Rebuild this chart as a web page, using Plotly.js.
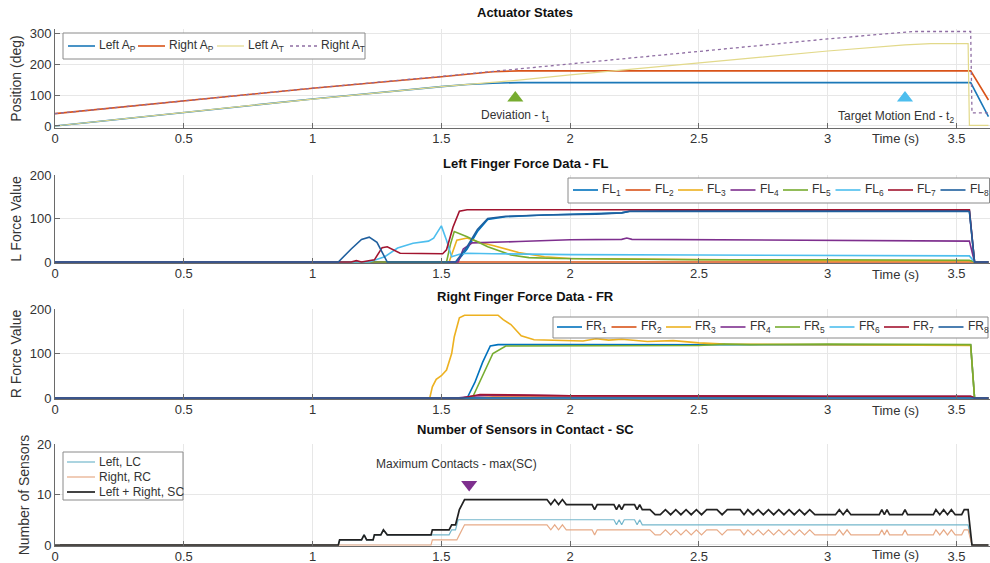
<!DOCTYPE html>
<html><head><meta charset="utf-8">
<script src="https://cdn.plot.ly/plotly-3.0.1.min.js"></script>
<style>html,body{margin:0;padding:0;background:#fff;}#chart{width:990px;height:563px;}</style>
</head><body><div id="chart"></div>
<script>
// ---------------- DATA ----------------
const xTickVals = [0, 0.5, 1, 1.5, 2, 2.5, 3, 3.5];
const xTickText = ['0', '0.5', '1', '1.5', '2', '2.5', '3', '3.5'];
const yTicksPos = [0, 100, 200, 300];
const yTicksForce = [0, 100, 200];
const yTicksSensors = [0, 10, 20];

// Panel 1 - Actuator States
const apNames = ['Left A<sub>P</sub>', 'Right A<sub>P</sub>', 'Left A<sub>T</sub>', 'Right A<sub>T</sub>'];
const tLeftAP  = [0, 0.5, 1.0, 1.5, 1.6, 1.7, 1.8, 3.555, 3.624];
const vLeftAP  = [0, 44, 87, 127, 134, 138, 140, 140, 30];
const tRightAP = [0, 0.5, 1.0, 1.5, 1.6, 1.7, 1.8, 3.555, 3.624];
const vRightAP = [40, 82, 122, 159, 168, 175, 178, 178, 84];
const tLeftAT  = [0, 0.5, 1.0, 1.5, 1.6, 1.8, 2.0, 2.5, 3.0, 3.3, 3.4, 3.545, 3.55, 3.624];
const vLeftAT  = [0, 44, 87, 127, 134, 148, 165, 203, 242, 262, 266, 266, 2, 2];
const tRightAT = [0, 0.5, 1.0, 1.5, 2.0, 2.5, 3.0, 3.33, 3.555, 3.56, 3.624];
const vRightAT = [40, 82, 122, 160, 200, 241, 281, 305, 305, 42, 42];
const eventNames = ['Deviation - t<sub>1</sub>', 'Target Motion End - t<sub>2</sub>'];
const eventT = [1.787, 3.30];
const eventV = [90, 90];

// Panel 2 - Left finger force
const flNames = ['FL<sub>1</sub>','FL<sub>2</sub>','FL<sub>3</sub>','FL<sub>4</sub>','FL<sub>5</sub>','FL<sub>6</sub>','FL<sub>7</sub>','FL<sub>8</sub>'];
const tFL1 = [0, 1.56, 1.6, 1.64, 1.68, 1.75, 1.9, 2.1, 2.2, 2.23, 2.5, 3.0, 3.3, 3.55, 3.57, 3.624];
const vFL1 = [0, 0, 30, 70, 98, 104, 108, 111, 113, 117, 118, 118, 118, 118, 0, 0];
const tFL2 = [0, 1.6, 1.65, 3.55, 3.57, 3.624];
const vFL2 = [0, 0, 1, 1, 0, 0];
const tFL3 = [0, 1.53, 1.56, 1.6, 1.65, 1.7, 1.8, 1.9, 2.0, 2.5, 3.0, 3.55, 3.57, 3.624];
const vFL3 = [0, 0, 50, 55, 45, 38, 22, 12, 8, 5, 3, 3, 0, 0];
const tFL4 = [0, 1.565, 1.585, 1.62, 1.8, 2.0, 2.2, 2.22, 2.24, 2.5, 3.0, 3.3, 3.55, 3.57, 3.624];
const vFL4 = [0, 0, 30, 44, 47, 51, 52, 55, 52, 51, 50, 49, 48, 0, 0];
const tFL5 = [0, 1.52, 1.535, 1.55, 1.6, 1.68, 1.77, 1.84, 1.95, 2.2, 2.5, 3.0, 3.55, 3.57, 3.624];
const vFL5 = [0, 0, 40, 70, 58, 35, 16, 10, 8, 6, 5, 5, 4, 0, 0];
const tFL6 = [0, 1.22, 1.28, 1.33, 1.39, 1.45, 1.47, 1.50, 1.52, 1.54, 1.57, 1.6, 1.7, 2.0, 2.5, 3.0, 3.55, 3.57, 3.624];
const vFL6 = [0, 0, 12, 32, 43, 48, 55, 83, 50, 12, 18, 20, 19, 17, 16, 15, 14, 0, 0];
const tFL7 = [0, 1.15, 1.17, 1.19, 1.24, 1.27, 1.29, 1.34, 1.505, 1.52, 1.545, 1.57, 1.6, 3.55, 3.57, 3.624];
const vFL7 = [0, 0, 3, 0, 5, 33, 35, 20, 19, 28, 80, 117, 120, 120, 0, 0];
const tFL8 = [0, 1.10, 1.15, 1.19, 1.22, 1.25, 1.29, 1.555, 1.6, 1.64, 1.68, 1.75, 1.9, 2.1, 2.2, 2.23, 3.0, 3.55, 3.57, 3.624];
const vFL8 = [0, 0, 30, 52, 57, 45, 0, 0, 35, 75, 100, 105, 108, 110, 113, 116, 116, 116, 0, 0];

// Panel 3 - Right finger force
const frNames = ['FR<sub>1</sub>','FR<sub>2</sub>','FR<sub>3</sub>','FR<sub>4</sub>','FR<sub>5</sub>','FR<sub>6</sub>','FR<sub>7</sub>','FR<sub>8</sub>'];
const tFR1 = [0, 1.6, 1.63, 1.66, 1.69, 1.72, 2.0, 2.5, 3.0, 3.5, 3.555, 3.57, 3.624];
const vFR1 = [0, 0, 35, 80, 117, 120, 120, 120, 119, 119, 119, 0, 0];
const tFR2 = [0, 1.6, 1.7, 3.555, 3.57, 3.624];
const vFR2 = [0, 0, 2, 2, 0, 0];
const tFR3 = [0, 1.455, 1.465, 1.48, 1.5, 1.52, 1.54, 1.55, 1.57, 1.59, 1.72, 1.74, 1.77, 1.81, 1.86, 1.95, 2.05, 2.1, 2.15, 2.2, 2.3, 2.4, 2.5, 2.6, 3.0, 3.5, 3.555, 3.57, 3.624];
const vFR3 = [0, 0, 25, 42, 50, 63, 100, 137, 180, 186, 186, 176, 165, 140, 131, 130, 128, 133, 130, 132, 127, 129, 124, 121, 120, 119, 118, 0, 0];
const tFR4 = [0, 1.56, 1.62, 1.7, 2.0, 2.5, 3.0, 3.555, 3.57, 3.624];
const vFR4 = [0, 0, 4, 7, 5, 4, 4, 4, 0, 0];
const tFR5 = [0, 1.62, 1.66, 1.7, 1.75, 2.5, 2.6, 2.7, 3.0, 3.5, 3.555, 3.57, 3.624];
const vFR5 = [0, 0, 50, 100, 117, 118, 121, 120, 121, 121, 120, 0, 0];
const tFR6 = [0, 3.624];
const vFR6 = [0, 0];
const tFR7 = [0, 1.58, 1.65, 1.8, 2.0, 3.0, 3.555, 3.57, 3.624];
const vFR7 = [0, 0, 8, 7, 5, 4, 4, 0, 0];
const tFR8 = [0, 1.6, 1.7, 3.555, 3.57, 3.624];
const vFR8 = [0, 0, 1, 1, 0, 0];

// Panel 4 - Number of sensors in contact
const scNames = ['Left, LC', 'Right, RC', 'Left + Right, SC'];
const tLC = [0, 1.10, 1.105, 1.19, 1.20, 1.21, 1.235, 1.24, 1.265, 1.275, 1.29, 1.53, 1.54, 1.555, 1.565, 2.17, 2.18, 2.19, 2.20, 2.21, 2.22, 2.25, 2.26, 2.27, 2.28, 3.545, 3.56, 3.624];
const vLC = [0, 0, 1, 1, 2, 1, 1, 2, 2, 3, 2, 2, 3, 3, 5, 5, 4, 5, 4, 5, 5, 5, 4, 5, 4, 4, 0, 0];
const tRC = [0, 1.46, 1.465, 1.56, 1.57, 1.58, 1.59, 1.91, 1.925, 1.94, 1.955, 1.97, 1.985, 2.085, 2.095, 2.105, 2.31, 2.33,
  2.35, 2.37, 2.39, 2.41, 2.43, 2.45, 2.47, 2.49, 2.51, 2.53, 2.57, 2.59, 2.61, 2.66, 2.675, 2.69, 2.71, 2.73, 2.75, 2.77, 2.79, 2.81, 2.83, 2.85, 2.87, 2.89, 2.91, 2.93, 2.95,
  3.03, 3.045, 3.06, 3.075, 3.09, 3.20, 3.21, 3.22, 3.23, 3.24, 3.29, 3.30, 3.31, 3.41, 3.42, 3.435, 3.45, 3.465, 3.48, 3.495, 3.52, 3.53, 3.545, 3.56, 3.624];
const vRC = [0, 0, 1, 1, 2, 3, 4, 4, 3, 4, 3, 4, 3, 3, 2, 3, 3, 2,
  2, 3, 2, 3, 2, 3, 2, 3, 2, 3, 3, 2, 3, 3, 2, 3, 2, 3, 2, 3, 2, 3, 2, 3, 2, 3, 2, 3, 2,
  2, 3, 2, 3, 2, 2, 3, 2, 3, 2, 2, 3, 2, 2, 3, 2, 3, 2, 3, 2, 2, 3, 3, 0, 0];
const tSC = [0, 1.10, 1.105, 1.19, 1.20, 1.21, 1.235, 1.24, 1.265, 1.275, 1.29, 1.46, 1.465, 1.53, 1.54, 1.555, 1.565, 1.57, 1.58, 1.59,
  1.91, 1.925, 1.94, 1.955, 1.97, 1.985, 2.085, 2.095, 2.105, 2.17, 2.18, 2.19, 2.20, 2.21, 2.25, 2.26, 2.27, 2.28, 2.31, 2.33,
  2.35, 2.37, 2.39, 2.41, 2.43, 2.45, 2.47, 2.49, 2.51, 2.53, 2.57, 2.59, 2.61, 2.66, 2.675, 2.69, 2.71, 2.73, 2.75, 2.77, 2.79, 2.81, 2.83, 2.85, 2.87, 2.89, 2.91, 2.93, 2.95,
  3.03, 3.045, 3.06, 3.075, 3.09, 3.20, 3.21, 3.22, 3.23, 3.24, 3.29, 3.30, 3.31, 3.41, 3.42, 3.435, 3.45, 3.465, 3.48, 3.495, 3.52, 3.53, 3.545, 3.56, 3.624];
const vSC = [0, 0, 1, 1, 2, 1, 1, 2, 2, 3, 2, 2, 3, 3, 4, 4, 6, 7, 8, 9,
  9, 8, 9, 8, 9, 8, 8, 7, 8, 8, 7, 8, 7, 8, 8, 7, 8, 7, 7, 6,
  6, 7, 6, 7, 6, 7, 6, 7, 6, 7, 7, 6, 7, 7, 6, 7, 6, 7, 6, 7, 6, 7, 6, 7, 6, 7, 6, 7, 6,
  6, 7, 6, 7, 6, 6, 7, 6, 7, 6, 6, 7, 6, 6, 7, 6, 7, 6, 7, 6, 6, 7, 7, 0, 0];
const maxLabel = 'Maximum Contacts - max(SC)';
const maxT = [1.608];
const maxV = [12];

// ---------------- STYLE / LAYOUT ----------------
const W = 990, H = 563;
const px = x => x / W;
const py = y => 1 - y / H;
const C = {blue:'#0072BD', orange:'#D95319', yellow:'#EDB120', purple:'#7E2F8E', green:'#77AC30', cyan:'#4DBEEE', red:'#A2142F'};
const forceColors = [C.blue, C.orange, C.yellow, C.purple, C.green, C.cyan, C.red, '#1f5f9e'];
const FONT = 'Liberation Sans, Arial, Helvetica, sans-serif';
const TXT = '#333333';

function ax(n) { return n === 1 ? '' : String(n); }
function line(t, v, n, color, width, dash) {
  return {type:'scatter', mode:'lines', x:t, y:v, xaxis:'x'+ax(n), yaxis:'y'+ax(n),
    line:{color:color, width:width, dash:dash||'solid'}, showlegend:false, hoverinfo:'skip'};
}

const traces = [];
// panel 1
const apStyles = [
  {t:tLeftAP, v:vLeftAP, c:'#1b78b8', w:1.6, d:'solid'},
  {t:tRightAP, v:vRightAP, c:C.orange, w:1.6, d:'solid'},
  {t:tLeftAT, v:vLeftAT, c:'#e2d98a', w:1.2, d:'solid'},
  {t:tRightAT, v:vRightAT, c:'#8f6ea3', w:1.3, d:'dot'}
];
apStyles.forEach(s => traces.push(line(s.t, s.v, 1, s.c, s.w, s.d)));
traces.push({type:'scatter', mode:'markers', x:[eventT[0]], y:[eventV[0]], xaxis:'x', yaxis:'y',
  marker:{symbol:'triangle-up', size:14, color:C.green}, showlegend:false, hoverinfo:'skip'});
traces.push({type:'scatter', mode:'markers', x:[eventT[1]], y:[eventV[1]], xaxis:'x', yaxis:'y',
  marker:{symbol:'triangle-up', size:14, color:C.cyan}, showlegend:false, hoverinfo:'skip'});
// panel 2
const flT = [tFL1,tFL2,tFL3,tFL4,tFL5,tFL6,tFL7,tFL8];
const flV = [vFL1,vFL2,vFL3,vFL4,vFL5,vFL6,vFL7,vFL8];
flT.forEach((t,i) => traces.push(line(t, flV[i], 2, forceColors[i], 1.6)));
// panel 3
const frT = [tFR1,tFR2,tFR3,tFR4,tFR5,tFR6,tFR7,tFR8];
const frV = [vFR1,vFR2,vFR3,vFR4,vFR5,vFR6,vFR7,vFR8];
frT.forEach((t,i) => traces.push(line(t, frV[i], 3, forceColors[i], 1.6)));
// panel 4
const scStyles = [
  {t:tLC, v:vLC, c:'#74b7cc', w:1.2},
  {t:tRC, v:vRC, c:'#e7ab88', w:1.2},
  {t:tSC, v:vSC, c:'#222222', w:1.7}
];
scStyles.forEach(s => traces.push(line(s.t, s.v, 4, s.c, s.w)));
traces.push({type:'scatter', mode:'markers', x:maxT, y:maxV, xaxis:'x4', yaxis:'y4',
  marker:{symbol:'triangle-down', size:14, color:C.purple}, showlegend:false, hoverinfo:'skip'});

const panels = [
  {top:29,  bottom:128, range:[-6.5, 313], ticks:yTicksPos,     ytitle:'Position (deg)',    title:'Actuator States', titleY:13, timeDy:11},
  {top:175, bottom:263, range:[-2.3, 200], ticks:yTicksForce,   ytitle:'L Force Value',     title:'Left Finger Force Data - FL', titleY:163, timeDy:11},
  {top:309, bottom:399, range:[-2.2, 200], ticks:yTicksForce,   ytitle:'R Force Value',     title:'Right Finger Force Data - FR', titleY:296, timeDy:11},
  {top:444, bottom:546, range:[-0.2, 20],  ticks:yTicksSensors, ytitle:'Number of Sensors', title:'Number of Sensors in Contact - SC', titleY:430, timeDy:8.5}
];

const layout = {
  width:W, height:H, margin:{l:0, r:0, t:0, b:0},
  paper_bgcolor:'#ffffff', plot_bgcolor:'#ffffff',
  font:{family:FONT, size:13, color:TXT},
  showlegend:false, annotations:[], shapes:[]
};
const axisCommon = {ticks:'inside', ticklen:5, tickwidth:1, tickcolor:'#6a6a6a', showline:true, linecolor:'#6a6a6a',
  linewidth:1, showgrid:true, gridcolor:'#e7e7e7', gridwidth:1, zeroline:false, fixedrange:true,
  tickfont:{family:FONT, size:13, color:TXT}, automargin:false};

panels.forEach((p, i) => {
  const n = i + 1, s = ax(n);
  layout['xaxis'+s] = Object.assign({}, axisCommon, {domain:[px(55), 1], range:[0, 3.63], anchor:'y'+s,
    tickmode:'array', tickvals:xTickVals, ticktext:xTickText, ticklabelstandoff:-2});
  layout['yaxis'+s] = Object.assign({}, axisCommon, {domain:[py(p.bottom), py(p.top)], range:p.range, anchor:'x'+s,
    tickmode:'array', tickvals:p.ticks, ticktext:p.ticks.map(String),
    title:{text:p.ytitle, font:{family:FONT, size:14, color:TXT}, standoff:4}});
  layout.annotations.push({xref:'paper', yref:'paper', x:px(525), y:py(p.titleY), text:'<b>'+p.title+'</b>',
    showarrow:false, xanchor:'center', yanchor:'middle', font:{family:FONT, size:13, color:'#111'}});
  layout.annotations.push({xref:'x'+s, yref:'paper', x:3.265, y:py(p.bottom + p.timeDy), text:'Time (s)',
    showarrow:false, xanchor:'center', yanchor:'middle', font:{family:FONT, size:13, color:TXT}});
});

// event labels
layout.annotations.push({xref:'x', yref:'y', x:eventT[0], y:32, text:eventNames[0], showarrow:false,
  xanchor:'center', yanchor:'middle', font:{family:FONT, size:12, color:TXT}});
layout.annotations.push({xref:'x', yref:'y', x:3.265, y:30, text:eventNames[1], showarrow:false,
  xanchor:'center', yanchor:'middle', font:{family:FONT, size:12, color:TXT}});
layout.annotations.push({xref:'x4', yref:'y4', x:maxT[0] - 0.05, y:16, text:maxLabel, showarrow:false,
  xanchor:'center', yanchor:'middle', font:{family:FONT, size:12, color:TXT}});

// legends (MATLAB-style boxes)
function addLegend(names, styles, box, positions, sampleLen, textOff) {
  layout.shapes.push({type:'rect', xref:'paper', yref:'paper', x0:px(box[0]), y0:py(box[1]), x1:px(box[2]), y1:py(box[3]),
    line:{color:'#8a8a8a', width:1}, fillcolor:'#ffffff', layer:'above'});
  names.forEach((nm, i) => {
    const [x, y] = positions[i];
    layout.shapes.push({type:'line', xref:'paper', yref:'paper', x0:px(x), x1:px(x + sampleLen), y0:py(y), y1:py(y),
      line:{color:styles[i].c, width:styles[i].w, dash:styles[i].d || 'solid'}, layer:'above'});
    layout.annotations.push({xref:'paper', yref:'paper', x:px(x + textOff), y:py(y), text:nm, showarrow:false,
      xanchor:'left', yanchor:'middle', font:{family:FONT, size:12, color:TXT}});
  });
}
addLegend(apNames, apStyles, [63, 33, 365, 59], [[68,46],[138,46],[217,46],[290,46]], 27, 29);
const fStyles = forceColors.map(c => ({c:c, w:1.6}));
addLegend(flNames, fStyles, [568, 178, 989.5, 203], flNames.map((_, i) => [573 + 52.5*i, 190]), 25, 27);
addLegend(frNames, fStyles, [553, 317, 988, 338], frNames.map((_, i) => [557 + 54.5*i, 327]), 25, 27);
addLegend(scNames, scStyles, [63, 452, 183, 500], [[67,462],[67,477],[67,492]], 28, 30);

Plotly.newPlot('chart', traces, layout, {staticPlot:true, displayModeBar:false});
</script></body></html>
